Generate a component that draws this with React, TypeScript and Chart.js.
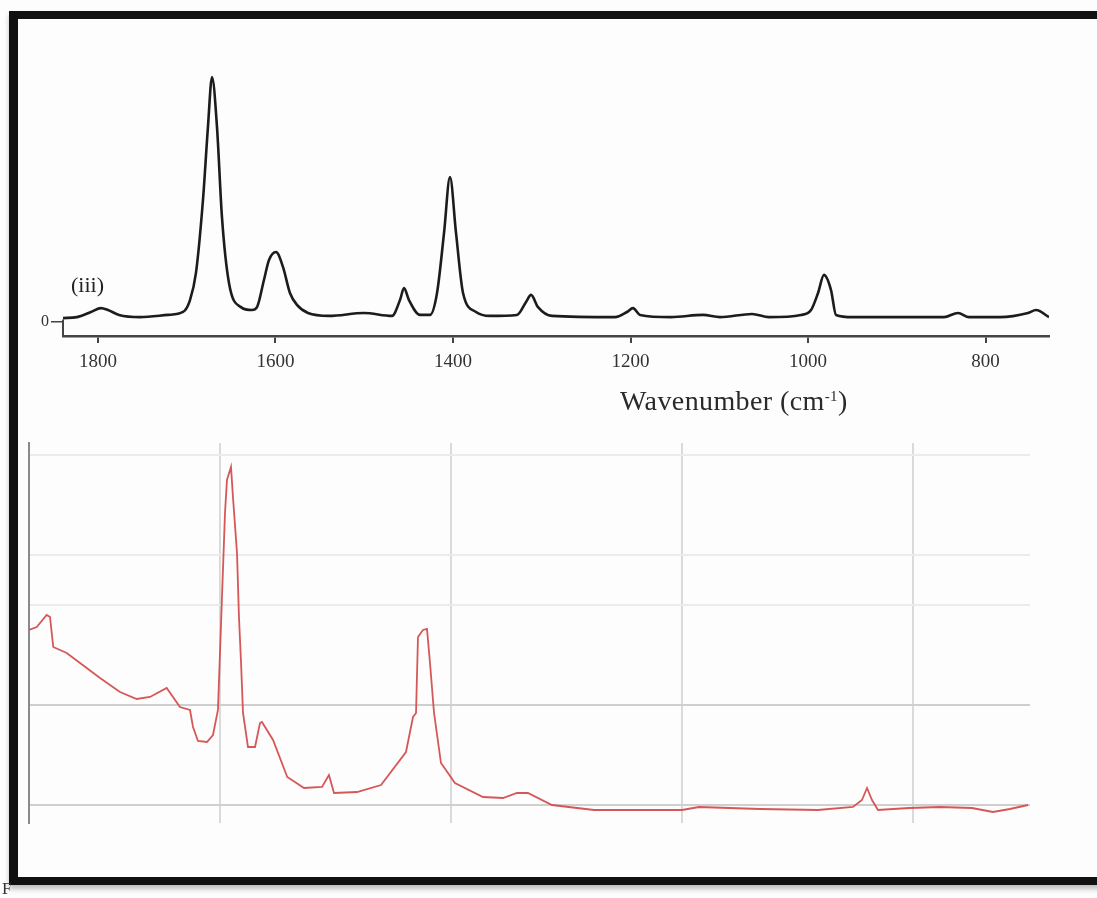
import React, { useEffect, useRef } from "react";
import { Chart, registerables } from "chart.js";

Chart.register(...registerables);

// ---- Top spectrum (iii): Raman, wavenumber (cm-1) vs intensity ----
const topWavenumbers = [
  1839.4, 1823.7, 1807.9, 1796.6, 1788.7, 1776.3, 1752.7, 1721.1, 1704.2, 1696.3,
  1689.6, 1681.7, 1676.1, 1671.5, 1665.9, 1660.3, 1652.4, 1638.9, 1626.5, 1620.8,
  1613.0, 1607.3, 1599.4, 1591.5, 1583.7, 1575.8, 1563.4, 1539.7, 1500.3, 1468.7,
  1459.7, 1455.2, 1449.6, 1437.2, 1425.9, 1418.0, 1410.1, 1403.4, 1396.6, 1388.7,
  1374.1, 1358.3, 1327.9, 1317.7, 1312.1, 1304.2, 1288.5, 1217.5, 1203.9, 1197.2,
  1189.3, 1154.4, 1118.3, 1099.2, 1063.1, 1044.0, 1007.9, 996.6, 988.7, 982.0,
  974.1, 968.5, 949.3, 846.8, 831.0, 818.6, 783.7, 752.1, 743.1, 728.5,
];
const topIntensity = [
  1.6, 2.0, 4.1, 5.7, 4.9, 2.9, 2.0, 2.9, 4.1, 9.0,
  20.1, 50.0, 79.9, 100.4, 79.9, 43.0, 16.0, 6.1, 4.9, 6.1,
  17.2, 25.4, 28.7, 22.5, 11.9, 7.0, 3.7, 2.5, 3.7, 2.5,
  9.0, 13.9, 9.0, 2.9, 2.9, 11.9, 36.5, 59.4, 36.5, 11.9,
  4.1, 2.5, 2.9, 8.2, 11.1, 6.1, 2.5, 2.0, 4.1, 5.7,
  2.9, 2.0, 2.9, 2.0, 3.3, 2.0, 2.9, 4.9, 11.9, 19.3,
  13.1, 2.9, 2.0, 2.0, 3.7, 2.0, 2.0, 3.7, 4.9, 2.0,
];
const topTickLabels = [1800, 1600, 1400, 1200, 1000, 800];
const topYTicks = [0];

// ---- Bottom spectrum (red) ----
const bottomWavenumbers = [
  1765.4, 1758.7, 1750.1, 1747.2, 1744.4, 1732.8, 1721.2, 1703.9, 1686.6, 1672.2,
  1660.6, 1646.2, 1640.7, 1634.7, 1626.0, 1623.4, 1619.1, 1611.3, 1606.1, 1601.8,
  1598.3, 1595.7, 1594.0, 1590.5, 1588.8, 1585.3, 1583.6, 1581.8, 1580.1, 1575.8,
  1569.7, 1565.4, 1563.7, 1554.1, 1541.8, 1527.3, 1511.7, 1505.7, 1501.3, 1481.4,
  1460.6, 1439.0, 1432.9, 1430.3, 1428.6, 1424.3, 1420.8, 1418.2, 1414.7, 1408.7,
  1396.6, 1372.3, 1355.0, 1342.9, 1333.4, 1312.6, 1276.2, 1236.4, 1200.0, 1185.3,
  1132.5, 1082.3, 1052.0, 1044.2, 1039.8, 1035.5, 1030.3, 1003.5, 976.6, 948.9,
  930.8, 916.1, 900.4,
];
const bottomIntensity = [
  1.75, 1.78, 1.9, 1.88, 1.58, 1.52, 1.42, 1.27, 1.13, 1.06,
  1.08, 1.17, 1.08, 0.98, 0.95, 0.78, 0.64, 0.63, 0.7, 0.95,
  2.08, 2.92, 3.25, 3.38, 3.08, 2.52, 1.88, 1.42, 0.92, 0.58,
  0.58, 0.82, 0.83, 0.65, 0.28, 0.17, 0.18, 0.3, 0.12, 0.13,
  0.2, 0.53, 0.88, 0.92, 1.68, 1.75, 1.76, 1.42, 0.92, 0.42,
  0.22, 0.08, 0.07, 0.12, 0.12, 0.0, -0.05, -0.05, -0.05, -0.02,
  -0.04, -0.05, -0.02, 0.05, 0.17, 0.05, -0.05, -0.03, -0.02, -0.03,
  -0.07, -0.04, 0.0,
];
const bottomGridTicks = [1600, 1400, 1200, 1000];
const bottomLevelTicks = [0, 1, 2, 2.5, 3.5];

const W = 1097;
const H = 898;

const bracketPlugin = {
  id: "bracket",
  afterDraw(chart: any) {
    const { ctx, chartArea, scales } = chart;
    const y0 = scales.y.getPixelForValue(1);
    ctx.save();
    ctx.strokeStyle = "#444";
    ctx.lineWidth = 2;
    ctx.beginPath();
    ctx.moveTo(chartArea.left, y0);
    ctx.lineTo(chartArea.left, chartArea.bottom);
    ctx.stroke();
    ctx.restore();
  },
};

export default function App() {
  const topRef = useRef<HTMLCanvasElement>(null);
  const botRef = useRef<HTMLCanvasElement>(null);

  useEffect(() => {
    document.body.style.margin = "0";
    const topChart = new Chart(topRef.current as HTMLCanvasElement, {
      type: "line",
      data: {
        datasets: [
          {
            data: topWavenumbers.map((x, i) => ({ x, y: topIntensity[i] })),
            borderColor: "#1c1c1c",
            borderWidth: 2.6,
            pointRadius: 0,
            cubicInterpolationMode: "monotone",
            fill: false,
          },
        ],
      },
      options: {
        animation: false,
        responsive: false,
        devicePixelRatio: 1,
        layout: { padding: { left: 39, right: 48, top: 68, bottom: 512 } },
        plugins: { legend: { display: false }, tooltip: { enabled: false } },
        scales: {
          x: {
            type: "linear",
            reverse: true,
            min: 728.5,
            max: 1839.4,
            afterBuildTicks: (s: any) => {
              s.ticks = topTickLabels.map((v) => ({ value: v }));
            },
            afterFit: (s: any) => {
              s.height = 50;
            },
            ticks: {
              autoSkip: false,
              maxRotation: 0,
              padding: 8,
              color: "#333",
              font: { family: "'Liberation Serif', serif", size: 19 },
              callback: (v: any) => String(v),
            },
            grid: {
              drawOnChartArea: false,
              drawTicks: true,
              tickLength: 7,
              color: "#444",
              lineWidth: 2,
            },
            border: { display: true, color: "#444", width: 2.5 },
          },
          y: {
            type: "linear",
            min: -5.74,
            max: 104.1,
            afterBuildTicks: (s: any) => {
              s.ticks = topYTicks.map((v) => ({ value: v }));
            },
            afterFit: (s: any) => {
              s.width = 24;
            },
            ticks: {
              padding: 2,
              color: "#333",
              font: { family: "'Liberation Serif', serif", size: 16 },
              callback: (v: any) => String(v),
            },
            grid: {
              drawOnChartArea: false,
              drawTicks: true,
              tickLength: 12,
              color: "#444",
              lineWidth: 1.5,
            },
            border: { display: false },
          },
        },
      },
      plugins: [bracketPlugin],
    } as any);

    const botChart = new Chart(botRef.current as HTMLCanvasElement, {
      type: "line",
      data: {
        datasets: [
          {
            data: bottomWavenumbers.map((x, i) => ({ x, y: bottomIntensity[i] })),
            borderColor: "rgba(212,78,78,0.95)",
            borderWidth: 1.8,
            pointRadius: 0,
            tension: 0,
            fill: false,
          },
        ],
      },
      options: {
        animation: false,
        responsive: false,
        devicePixelRatio: 1,
        layout: { padding: { left: 29, right: 67, top: 443, bottom: 75 } },
        plugins: { legend: { display: false }, tooltip: { enabled: false } },
        scales: {
          x: {
            type: "linear",
            reverse: true,
            min: 898.7,
            max: 1765.4,
            afterBuildTicks: (s: any) => {
              s.ticks = bottomGridTicks.map((v) => ({ value: v }));
            },
            afterFit: (s: any) => {
              s.height = 0;
            },
            ticks: { display: false },
            grid: { color: "#dadada", lineWidth: 2, drawTicks: false },
            border: { display: false },
          },
          y: {
            type: "linear",
            min: -0.18,
            max: 3.62,
            afterBuildTicks: (s: any) => {
              s.ticks = bottomLevelTicks.map((v) => ({ value: v }));
            },
            afterFit: (s: any) => {
              s.width = 0;
            },
            ticks: { display: false },
            grid: {
              color: (c: any) => (c.tick && c.tick.value < 1.5 ? "#cfcfcf" : "#ececec"),
              lineWidth: 2,
              drawTicks: false,
            },
            border: { display: true, color: "#8a8a8a", width: 2 },
          },
        },
      },
    } as any);

    return () => {
      topChart.destroy();
      botChart.destroy();
    };
  }, []);

  const serif = "'Liberation Serif', 'Times New Roman', serif";

  return (
    <div
      style={{
        position: "relative",
        width: W,
        height: H,
        overflow: "hidden",
        background: "#fdfdfd",
      }}
    >
      <div
        style={{
          position: "absolute",
          left: 9,
          top: 11,
          width: 1120,
          height: 874,
          boxSizing: "border-box",
          borderLeft: "9px solid #111",
          borderTop: "8px solid #111",
          borderBottom: "8px solid #111",
          boxShadow: "0 4px 5px rgba(0,0,0,0.25)",
          background: "#fdfdfd",
        }}
      />
      <canvas
        ref={topRef}
        width={W}
        height={H}
        style={{ position: "absolute", left: 0, top: 0 }}
      />
      <canvas
        ref={botRef}
        width={W}
        height={H}
        style={{ position: "absolute", left: 0, top: 0 }}
      />
      <div
        style={{
          position: "absolute",
          left: 71,
          top: 272,
          fontFamily: serif,
          fontSize: 22,
          color: "#222",
          lineHeight: "26px",
        }}
      >
        (iii)
      </div>
      <div
        style={{
          position: "absolute",
          left: 620,
          top: 385,
          fontFamily: serif,
          fontSize: 28,
          letterSpacing: "0.4px",
          color: "#2a2a2a",
          lineHeight: "32px",
          whiteSpace: "nowrap",
        }}
      >
        Wavenumber (cm<sup style={{ fontSize: 15, verticalAlign: "9px", lineHeight: 0 }}>-1</sup>)
      </div>
      <div
        style={{
          position: "absolute",
          left: 2,
          top: 879,
          fontFamily: serif,
          fontSize: 17,
          color: "#333",
          lineHeight: "20px",
        }}
      >
        F
      </div>
    </div>
  );
}
